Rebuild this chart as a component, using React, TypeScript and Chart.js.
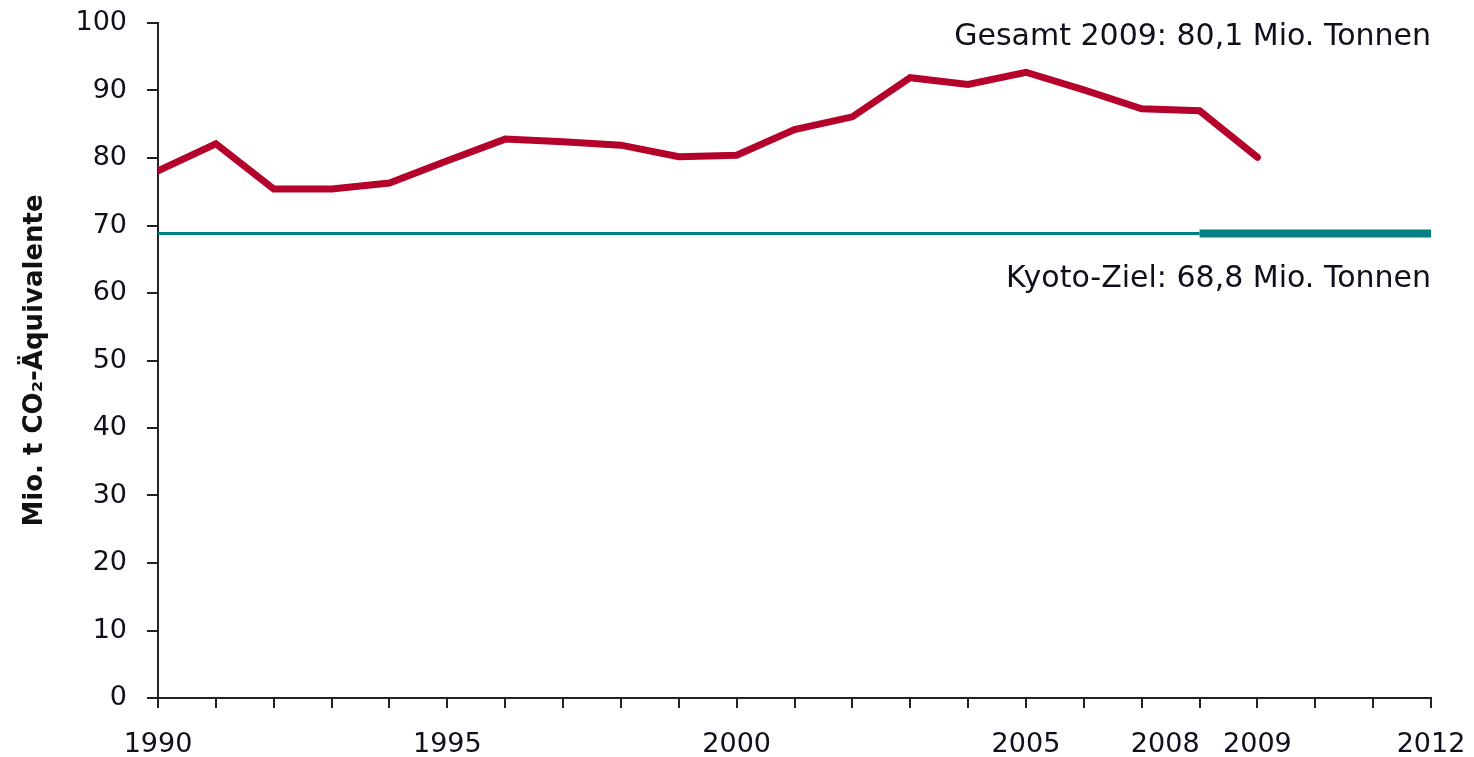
import React, { useEffect, useRef } from "react";
import { Chart, registerables } from "chart.js";

Chart.register(...registerables);

const years = [1990, 1991, 1992, 1993, 1994, 1995, 1996, 1997, 1998, 1999, 2000, 2001, 2002, 2003, 2004, 2005, 2006, 2007, 2008, 2009];
const emissions = [78.1, 82.1, 75.4, 75.4, 76.3, 79.6, 82.8, 82.4, 81.9, 80.2, 80.4, 84.2, 86.1, 91.9, 90.9, 92.7, 90.1, 87.3, 87.0, 80.1];
const tickYears = [1990, 1991, 1992, 1993, 1994, 1995, 1996, 1997, 1998, 1999, 2000, 2001, 2002, 2003, 2004, 2005, 2006, 2007, 2008, 2009, 2010, 2011, 2012];
const kyotoTarget = 68.8;
const kyotoBaseYears = [1990, 2008];
const kyotoPeriodYears = [2008, 2012];
const labeledYears = [1990, 1995, 2000, 2005, 2008, 2009, 2012];
const yTicks = [0, 10, 20, 30, 40, 50, 60, 70, 80, 90, 100];
const totalLabel = "Gesamt 2009: 80,1 Mio. Tonnen";
const kyotoLabel = "Kyoto-Ziel: 68,8 Mio. Tonnen";
const yTitle = "Mio. t CO₂-Äquivalente";

const FONT = "'DejaVu Sans', Verdana, sans-serif";
const TEXT = "#10101c";

const annotationPlugin = {
  id: "annotations",
  afterDatasetsDraw(chart: any) {
    const { ctx, chartArea, scales } = chart;
    ctx.save();
    ctx.fillStyle = TEXT;
    ctx.font = `30px ${FONT}`;
    ctx.textAlign = "right";
    ctx.textBaseline = "middle";
    ctx.fillText(totalLabel, chartArea.right, scales.y.getPixelForValue(97.9));
    ctx.fillText(kyotoLabel, chartArea.right, scales.y.getPixelForValue(62.0));
    ctx.restore();
  },
};

export default function App() {
  const ref = useRef<HTMLCanvasElement>(null);
  useEffect(() => {
    document.body.style.margin = "0";
    const chart = new Chart(ref.current as HTMLCanvasElement, {
      type: "line",
      data: {
        datasets: [
          {
            data: years.map((y, i) => ({ x: y, y: emissions[i] })),
            borderColor: "#b5022b",
            borderWidth: 7,
            pointRadius: 0,
            borderJoinStyle: "miter",
            borderCapStyle: "round",
            tension: 0,
          },
          {
            data: kyotoBaseYears.map((y) => ({ x: y, y: kyotoTarget })),
            borderColor: "#008080",
            borderWidth: 3,
            pointRadius: 0,
          },
          {
            data: kyotoPeriodYears.map((y) => ({ x: y, y: kyotoTarget })),
            borderColor: "#008080",
            borderWidth: 8,
            pointRadius: 0,
          },
        ],
      },
      options: {
        animation: false,
        responsive: false,
        maintainAspectRatio: false,
        layout: { padding: { top: 23, right: 43, left: 0, bottom: 0 } },
        plugins: { legend: { display: false }, tooltip: { enabled: false } },
        scales: {
          x: {
            type: "linear",
            min: 1990,
            max: 2012,
            afterBuildTicks(scale: any) {
              scale.ticks = tickYears.map((v) => ({ value: v }));
            },
            afterFit(scale: any) {
              scale.height = 757 - 698;
              scale.paddingLeft = 0;
              scale.paddingRight = 0;
            },
            ticks: {
              autoSkip: false,
              maxRotation: 0,
              color: TEXT,
              font: { family: FONT, size: 27 },
              padding: 21,
              callback: (v: any) => {
                const n = Number(v);
                if (!labeledYears.includes(n)) return "";
                return n === 2008 ? "2008        " : String(n);
              },
            },
            grid: {
              drawOnChartArea: false,
              drawTicks: true,
              tickLength: 10,
              color: "#222",
              lineWidth: 2,
            },
            border: { display: true, color: "#222", width: 2 },
          },
          y: {
            min: 0,
            max: 100,
            afterBuildTicks(scale: any) {
              scale.ticks = yTicks.map((v) => ({ value: v }));
            },
            afterFit(scale: any) {
              scale.width = 158;
              scale.paddingTop = 0;
              scale.paddingBottom = 0;
            },
            ticks: {
              color: TEXT,
              font: { family: FONT, size: 27 },
              padding: 20,
            },
            grid: {
              drawOnChartArea: false,
              drawTicks: true,
              tickLength: 11,
              color: "#222",
              lineWidth: 2,
            },
            border: { display: true, color: "#222", width: 2 },
            title: {
              display: true,
              text: yTitle,
              color: "#111",
              font: { family: FONT, size: 26, weight: "bold" },
              padding: { top: 20, bottom: 0 },
            },
          },
        },
      },
      plugins: [annotationPlugin],
    });
    return () => chart.destroy();
  }, []);
  return (
    <div style={{ width: 1474, height: 757 }}>
      <canvas ref={ref} width={1474} height={757} style={{ display: "block" }} />
    </div>
  );
}
